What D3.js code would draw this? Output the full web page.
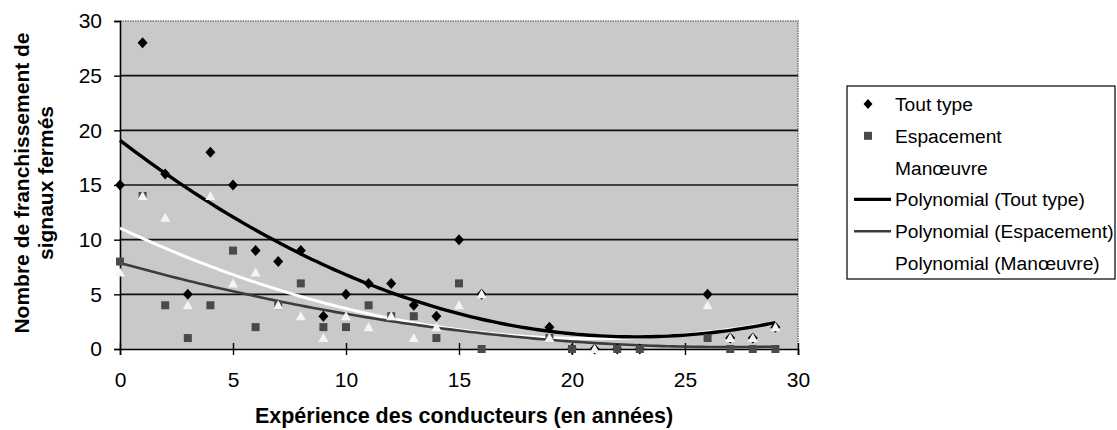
<!DOCTYPE html>
<html>
<head>
<meta charset="utf-8">
<script src="https://cdn.jsdelivr.net/npm/d3@7"></script>
<style>
body { margin:0; background:#fff; }
text { font-family: Arial, "Liberation Sans", sans-serif; }
</style>
</head>
<body>
<script>
// scatter data
var toutX = [0,1,2,3,4,5,6,7,8,9,10,11,12,13,14,15,16,19,20,21,22,23,26,27,28,29]
var toutY = [15,28,16,5,18,15,9,8,9,3,5,6,6,4,3,10,5,2,0,0,0,0,5,1,1,2]
var espX = [0,1,2,3,4,5,6,7,8,9,10,11,12,13,14,15,16,19,20,22,23,26,27,28,29]
var espY = [8,14,4,1,4,9,2,4,6,2,2,4,3,3,1,6,0,1,0,0,0,1,0,0,0]
var manX = [0,1,2,3,4,5,6,7,8,9,10,11,12,13,14,15,16,19,21,26,27,28,29]
var manY = [7,14,12,4,14,6,7,4,3,1,3,2,3,1,2,4,5,1,0,4,1,1,2]
var xTicks = [0,5,10,15,20,25,30]
var yTicks = [0,5,10,15,20,25,30]
var legendLabels = ["Tout type","Espacement","Manœuvre","Polynomial (Tout type)","Polynomial (Espacement)","Polynomial (Manœuvre)"]

function plot_it() {
	var width = 1117, height = 430
	var pLeft = 120, pRight = 798, pTop = 21, pBottom = 349

	var x = d3.scaleLinear().domain([0,30]).range([pLeft,pRight])
	var y = d3.scaleLinear().domain([0,30]).range([pBottom,pTop])

	// least squares fit of order 2, like the spreadsheet trendline
	function polyfit(xs, ys) {
		var s = [0,0,0,0,0], t = [0,0,0]
		xs.forEach(function(xv,i){
			for (var k=0;k<5;k++) s[k] += Math.pow(xv,k)
			for (var k=0;k<3;k++) t[k] += ys[i]*Math.pow(xv,k)
		})
		var m = [[s[0],s[1],s[2],t[0]],[s[1],s[2],s[3],t[1]],[s[2],s[3],s[4],t[2]]]
		for (var i=0;i<3;i++) {
			for (var j=i+1;j<3;j++) {
				var f = m[j][i]/m[i][i]
				for (var k=i;k<4;k++) m[j][k] -= f*m[i][k]
			}
		}
		var c = [0,0,0]
		for (var i=2;i>=0;i--) {
			var v = m[i][3]
			for (var k=i+1;k<3;k++) v -= m[i][k]*c[k]
			c[i] = v/m[i][i]
		}
		return c
	}
	function trend(xs, ys) {
		var c = polyfit(xs, ys)
		return d3.range(d3.min(xs), d3.max(xs)+0.001, 0.25).map(function(v){ return [v, c[0]+c[1]*v+c[2]*v*v] })
	}

	var svg = d3.select('body').append('svg').attr('width', width).attr('height', height)

	// plot area
	svg.append('rect').attr('x',pLeft).attr('y',pTop).attr('width',pRight-pLeft).attr('height',pBottom-pTop).attr('fill','#c9c9c9')
	svg.append('path').attr('d','M'+pLeft+','+pTop+'H'+pRight+'V'+pBottom).attr('fill','none').attr('stroke','#777').attr('stroke-width',1.5).attr('stroke-dasharray','1.5,1')

	svg.append('g').selectAll('line').data(yTicks.filter(function(d){ return d>0 && d<30 })).enter().append('line')
		.attr('x1',pLeft).attr('x2',pRight).attr('y1',function(d){ return y(d) }).attr('y2',function(d){ return y(d) })
		.attr('stroke','#111').attr('stroke-width',1.6)

	svg.append('g').attr('transform','translate('+pLeft+',0)')
		.call(d3.axisLeft(y).tickValues(yTicks).tickSize(6).tickPadding(12))
	var xAxis = svg.append('g').attr('transform','translate(0,'+pBottom+')')
		.call(d3.axisBottom(x).tickValues(xTicks).tickSize(6).tickPadding(17))
	svg.selectAll('.domain').attr('stroke','#000').attr('stroke-width',1.6)
	svg.selectAll('.tick line').attr('stroke','#000').attr('stroke-width',1.4)
	svg.selectAll('.tick text').attr('font-size',21).attr('fill','#000').style('font-family','Arial, "Liberation Sans", sans-serif')
	xAxis.selectAll('.tick line').attr('y1',-6).attr('y2',6)

	// trend lines
	var line = d3.line().x(function(d){ return x(d[0]) }).y(function(d){ return y(d[1]) })
	svg.append('path').datum(trend(manX,manY)).attr('d',line).attr('fill','none').attr('stroke','#fff').attr('stroke-width',3)
	svg.append('path').datum(trend(espX,espY)).attr('d',line).attr('fill','none').attr('stroke','#3c3c3c').attr('stroke-width',2.6)
	svg.append('path').datum(trend(toutX,toutY)).attr('d',line).attr('fill','none').attr('stroke','#000').attr('stroke-width',3.4)

	// markers
	var diamond = 'M0,-5.5L5,0L0,5.5L-5,0Z'
	var tri = 'M0,-5L5,4L-5,4Z'
	svg.append('g').selectAll('path').data(toutX).enter().append('path')
		.attr('d',diamond).attr('fill','#000')
		.attr('transform',function(d,i){ return 'translate('+x(d)+','+y(toutY[i])+')' })
	svg.append('g').selectAll('rect').data(espX).enter().append('rect')
		.attr('x',function(d){ return x(d)-4 }).attr('y',function(d,i){ return y(espY[i])-4 })
		.attr('width',8).attr('height',8).attr('fill','#4a4a4a')
	svg.append('g').selectAll('path').data(manX).enter().append('path')
		.attr('d',tri).attr('fill','#f4f4f4')
		.attr('transform',function(d,i){ return 'translate('+x(d)+','+y(manY[i])+')' })

	// axis titles
	svg.append('text').attr('x',(pLeft+pRight)/2 + 5).attr('y',423).attr('text-anchor','middle')
		.attr('font-size',21.5).attr('font-weight','bold').text('Expérience des conducteurs (en années)')
	var yt = svg.append('text').attr('transform','translate(0,183) rotate(-90)').attr('text-anchor','middle')
		.attr('font-size',21).attr('font-weight','bold')
	yt.append('tspan').attr('x',0).attr('y',29).text('Nombre de franchissement de')
	yt.append('tspan').attr('x',0).attr('y',53).text('signaux fermés')

	// legend
	var lg = svg.append('g').attr('transform','translate(847,86)')
	lg.append('rect').attr('x',0).attr('y',0).attr('width',268).attr('height',193).attr('fill','#fff').attr('stroke','#000').attr('stroke-width',1.2)
	var rows = lg.selectAll('g').data(legendLabels).enter().append('g')
		.attr('transform',function(d,i){ return 'translate(0,'+(18+i*31.8)+')' })
	rows.append('text').attr('x',48).attr('y',7).attr('font-size',19.2).text(function(d){ return d })
	rows.filter(function(d,i){ return i==0 }).append('path').attr('d','M0,-5L4.5,0L0,5L-4.5,0Z').attr('transform','translate(21,0)').attr('fill','#000')
	rows.filter(function(d,i){ return i==1 }).append('rect').attr('x',17).attr('y',-4).attr('width',8).attr('height',8).attr('fill','#4a4a4a')
	rows.filter(function(d,i){ return i==3 }).append('line').attr('x1',7).attr('x2',44).attr('stroke','#000').attr('stroke-width',3.4)
	rows.filter(function(d,i){ return i==4 }).append('line').attr('x1',7).attr('x2',44).attr('stroke','#3c3c3c').attr('stroke-width',2.6)
}
plot_it()
</script>
</body>
</html>
